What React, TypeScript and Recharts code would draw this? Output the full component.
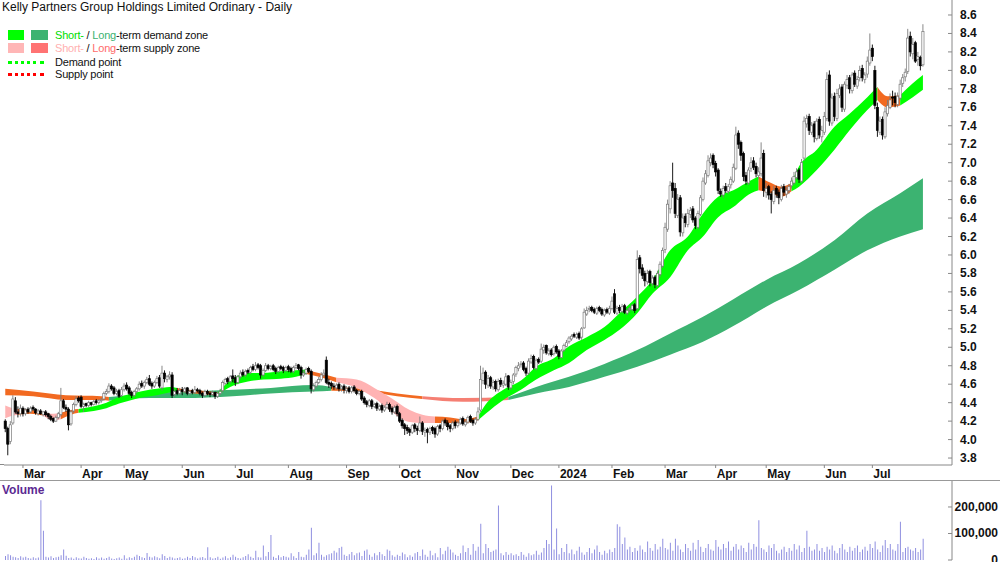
import React from 'react';
import { ComposedChart, Bar, Area, XAxis, YAxis } from 'recharts';

// ---------- daily candles (Feb 20 2023 .. Jul 29 2024, trading days) ----------
const opens = [
  4.20,4.12,3.98,4.18,4.42,4.30,4.28,
  4.34,4.28,4.33,4.30,4.35,4.33,4.28,4.31,4.27,4.30,4.28,4.25,4.23,4.20,4.24,4.27,4.42,4.35,4.33,4.17,4.31,4.38,4.45,
  4.46,4.36,4.39,4.37,4.40,4.38,4.42,4.40,4.42,4.44,4.50,4.52,4.58,4.56,4.50,4.53,4.48,
  4.54,4.59,4.56,4.51,4.48,4.52,4.55,4.61,4.58,4.62,4.66,4.61,4.58,4.62,4.67,4.56,4.72,4.65,4.68,4.70,4.49,4.53,4.50,
  4.54,4.52,4.56,4.50,4.53,4.51,4.54,4.53,4.50,4.48,4.52,4.50,4.49,4.51,4.47,4.50,4.53,4.61,4.66,4.63,4.69,
  4.67,4.62,4.68,4.73,4.70,4.75,4.73,4.79,4.76,4.81,4.80,4.70,4.75,4.80,4.77,4.80,4.77,4.74,4.79,4.78,4.75,
  4.79,4.77,4.74,4.78,4.81,4.78,4.70,4.72,4.77,4.74,4.54,4.58,4.62,4.65,4.70,4.86,4.62,4.61,4.58,4.56,4.60,4.55,4.58,
  4.53,4.56,4.52,4.57,4.53,4.50,4.52,4.45,4.41,4.37,4.42,4.36,4.39,4.33,4.37,4.32,4.35,4.38,4.34,4.30,4.36,
  4.28,4.21,4.16,4.13,4.11,4.08,4.16,4.12,4.10,4.18,4.08,4.11,4.08,4.13,4.12,4.06,4.15,4.12,4.21,4.18,4.15,4.12,
  4.19,4.15,4.18,4.23,4.16,4.19,4.25,4.21,4.18,4.22,4.32,4.64,4.73,4.59,4.67,4.57,4.63,4.54,4.64,4.59,4.60,4.69,
  4.56,4.63,4.71,4.77,4.81,4.83,4.77,4.72,4.84,4.90,4.77,4.87,4.85,4.97,5.02,4.93,4.97,4.93,5.01,
  4.96,4.89,4.97,5.01,5.06,5.09,5.14,5.11,5.15,5.11,5.21,5.36,5.41,5.43,5.41,5.37,5.43,5.41,5.35,5.41,5.37,
  5.42,5.58,5.37,5.43,5.39,5.45,5.37,5.41,5.41,5.46,5.42,5.97,5.86,5.80,5.71,5.82,5.69,5.76,5.67,5.79,5.88,
  6.06,6.28,6.50,6.78,6.72,6.43,6.62,6.24,6.42,6.33,6.44,6.50,6.40,6.30,6.44,6.60,6.78,6.86,7.00,7.08,
  6.99,6.92,6.69,6.65,6.74,6.69,6.76,6.80,6.94,7.32,7.22,7.10,6.86,6.78,6.94,7.02,6.96,6.86,6.88,7.10,
  6.68,6.74,6.66,6.58,6.72,6.68,6.60,6.74,6.66,6.70,6.75,6.78,6.84,6.92,6.80,7.05,7.42,7.50,7.33,7.42,7.26,7.47,7.28,
  7.33,7.48,7.95,7.43,7.72,7.48,7.73,7.82,7.58,7.84,7.92,7.78,7.97,7.83,7.92,8.02,7.90,
  7.96,8.08,8.24,8.00,7.60,7.33,7.47,7.28,7.53,7.60,7.71,7.72,7.63,7.70,7.86,7.93,7.99,8.37,8.18,8.30,8.12,8.14,8.06,
];
const highs = [
  4.22,4.14,4.20,4.48,4.46,4.36,4.38,
  4.36,4.34,4.35,4.36,4.37,4.34,4.33,4.33,4.31,4.32,4.29,4.27,4.24,4.26,4.30,4.56,4.44,4.38,4.35,4.32,4.40,4.47,4.47,
  4.48,4.40,4.40,4.42,4.41,4.43,4.44,4.44,4.45,4.52,4.55,4.61,4.60,4.58,4.55,4.55,4.57,
  4.61,4.62,4.58,4.53,4.54,4.57,4.63,4.64,4.64,4.68,4.70,4.63,4.64,4.69,4.70,4.80,4.75,4.70,4.74,4.73,4.55,4.56,4.56,
  4.57,4.57,4.57,4.54,4.55,4.58,4.56,4.55,4.52,4.54,4.54,4.52,4.53,4.52,4.52,4.55,4.64,4.67,4.68,4.70,4.76,
  4.70,4.70,4.75,4.76,4.76,4.77,4.80,4.82,4.84,4.83,4.82,4.77,4.83,4.82,4.81,4.82,4.79,4.80,4.81,4.80,4.80,
  4.81,4.79,4.80,4.83,4.82,4.80,4.75,4.78,4.79,4.76,4.61,4.64,4.68,4.73,4.76,4.90,4.66,4.63,4.61,4.61,4.62,4.59,4.60,
  4.58,4.58,4.58,4.59,4.55,4.54,4.54,4.47,4.43,4.44,4.44,4.40,4.41,4.38,4.39,4.37,4.41,4.40,4.36,4.37,4.38,
  4.30,4.23,4.18,4.16,4.13,4.17,4.18,4.15,4.25,4.20,4.13,4.13,4.14,4.15,4.14,4.16,4.17,4.22,4.23,4.21,4.17,4.20,
  4.21,4.20,4.24,4.25,4.21,4.26,4.27,4.23,4.24,4.35,4.80,4.78,4.75,4.70,4.69,4.65,4.65,4.66,4.67,4.64,4.72,4.70,
  4.65,4.72,4.80,4.84,4.85,4.85,4.79,4.88,4.92,4.92,4.88,4.89,5.04,5.03,5.03,4.99,4.99,5.02,5.03,
  4.98,4.98,5.04,5.08,5.12,5.14,5.16,5.16,5.17,5.22,5.42,5.44,5.45,5.45,5.43,5.44,5.45,5.43,5.42,5.43,5.45,
  5.55,5.63,5.45,5.46,5.47,5.47,5.42,5.44,5.47,5.48,6.05,6.00,5.90,5.83,5.84,5.84,5.78,5.78,5.83,5.93,6.08,
  6.35,6.60,6.80,7.00,6.78,6.66,6.65,6.45,6.45,6.50,6.52,6.53,6.42,6.48,6.65,6.84,6.92,7.08,7.10,7.10,
  7.02,6.94,6.72,6.75,6.78,6.77,6.85,6.99,7.39,7.35,7.24,7.12,6.90,6.95,7.06,7.06,7.00,6.95,7.22,7.14,
  6.78,6.76,6.69,6.75,6.75,6.71,6.76,6.77,6.74,6.77,6.84,6.90,6.94,6.94,7.04,7.50,7.52,7.53,7.44,7.45,7.48,7.50,7.40,
  7.55,7.98,8.00,7.75,7.76,7.80,7.85,7.85,7.88,7.95,7.95,7.98,8.00,7.94,8.05,8.06,7.98,
  8.15,8.40,8.28,8.05,7.65,7.50,7.50,7.60,7.68,7.75,7.78,7.76,7.76,7.90,7.96,8.02,8.45,8.42,8.35,8.32,8.20,8.16,8.50,
];
const lows = [
  4.08,3.83,3.95,4.16,4.28,4.24,4.25,
  4.25,4.26,4.28,4.29,4.31,4.27,4.26,4.27,4.25,4.25,4.22,4.20,4.18,4.19,4.22,4.25,4.33,4.30,4.10,4.15,4.29,4.36,4.40,
  4.34,4.30,4.35,4.35,4.36,4.37,4.38,4.38,4.40,4.42,4.48,4.50,4.53,4.48,4.48,4.45,4.46,
  4.52,4.53,4.48,4.45,4.46,4.50,4.53,4.56,4.55,4.60,4.58,4.55,4.56,4.60,4.56,4.53,4.62,4.62,4.65,4.45,4.46,4.48,4.48,
  4.48,4.50,4.48,4.48,4.49,4.50,4.51,4.48,4.45,4.46,4.48,4.46,4.47,4.44,4.45,4.48,4.51,4.59,4.60,4.61,4.62,
  4.58,4.60,4.66,4.68,4.68,4.71,4.71,4.74,4.74,4.76,4.66,4.68,4.73,4.75,4.75,4.74,4.71,4.72,4.75,4.72,4.73,
  4.73,4.72,4.72,4.76,4.75,4.66,4.68,4.70,4.72,4.50,4.52,4.56,4.60,4.63,4.68,4.60,4.56,4.55,4.54,4.54,4.52,4.52,4.50,
  4.50,4.50,4.50,4.51,4.48,4.48,4.42,4.38,4.35,4.35,4.33,4.34,4.31,4.31,4.29,4.30,4.33,4.30,4.27,4.28,4.25,
  4.18,4.12,4.05,4.06,4.04,4.06,4.08,4.05,4.08,4.05,4.03,3.96,4.05,4.06,4.02,4.04,4.08,4.10,4.15,4.10,4.08,4.10,
  4.12,4.13,4.16,4.15,4.14,4.17,4.18,4.15,4.16,4.20,4.30,4.60,4.55,4.56,4.55,4.54,4.52,4.52,4.57,4.56,4.58,4.54,
  4.54,4.60,4.68,4.74,4.78,4.74,4.69,4.70,4.82,4.76,4.75,4.82,4.83,4.93,4.92,4.91,4.90,4.91,4.93,
  4.87,4.88,4.95,5.00,5.04,5.07,5.10,5.09,5.08,5.08,5.20,5.34,5.38,5.38,5.36,5.35,5.38,5.34,5.33,5.36,5.35,
  5.40,5.36,5.35,5.37,5.37,5.36,5.35,5.38,5.39,5.37,5.40,5.80,5.74,5.66,5.68,5.66,5.66,5.64,5.65,5.76,5.86,
  6.02,6.25,6.45,6.62,6.40,6.40,6.20,6.20,6.30,6.30,6.40,6.35,6.28,6.28,6.42,6.58,6.76,6.84,6.96,6.94,
  6.85,6.66,6.63,6.62,6.67,6.66,6.72,6.78,6.92,7.15,7.02,6.80,6.76,6.76,6.90,6.92,6.84,6.82,6.85,6.63,
  6.62,6.60,6.45,6.55,6.62,6.55,6.58,6.64,6.62,6.66,6.72,6.76,6.82,6.78,6.78,7.02,7.38,7.30,7.30,7.22,7.24,7.26,7.22,
  7.30,7.45,7.40,7.40,7.45,7.45,7.70,7.55,7.55,7.80,7.75,7.75,7.82,7.80,7.88,7.88,7.86,
  7.92,8.05,8.10,7.58,7.28,7.30,7.25,7.26,7.50,7.58,7.62,7.60,7.60,7.68,7.82,7.88,7.96,8.15,8.12,8.08,8.05,8.00,8.04,
];
const closes = [
  4.12,3.95,4.16,4.44,4.30,4.28,4.34,
  4.28,4.32,4.30,4.34,4.33,4.29,4.31,4.28,4.30,4.27,4.25,4.22,4.20,4.24,4.28,4.42,4.35,4.33,4.16,4.30,4.38,4.44,4.42,
  4.36,4.38,4.37,4.40,4.38,4.41,4.40,4.42,4.43,4.50,4.52,4.58,4.55,4.50,4.52,4.47,4.54,
  4.58,4.55,4.50,4.48,4.52,4.55,4.60,4.58,4.62,4.65,4.60,4.58,4.62,4.66,4.58,4.72,4.66,4.68,4.70,4.48,4.52,4.50,4.53,
  4.52,4.55,4.50,4.52,4.51,4.54,4.53,4.50,4.48,4.52,4.50,4.49,4.51,4.47,4.50,4.52,4.62,4.65,4.63,4.68,4.66,
  4.62,4.68,4.72,4.70,4.74,4.73,4.78,4.76,4.80,4.78,4.70,4.75,4.80,4.77,4.79,4.76,4.74,4.78,4.77,4.75,4.78,
  4.76,4.74,4.78,4.80,4.77,4.70,4.72,4.76,4.74,4.55,4.58,4.62,4.65,4.70,4.72,4.62,4.60,4.58,4.57,4.59,4.55,4.57,4.54,
  4.55,4.52,4.56,4.53,4.50,4.52,4.44,4.40,4.38,4.42,4.36,4.38,4.34,4.36,4.32,4.35,4.38,4.33,4.30,4.35,4.28,
  4.20,4.15,4.12,4.10,4.08,4.15,4.12,4.10,4.18,4.09,4.10,4.08,4.12,4.10,4.06,4.14,4.12,4.20,4.18,4.14,4.12,4.18,
  4.15,4.18,4.22,4.17,4.19,4.24,4.20,4.18,4.22,4.30,4.65,4.72,4.60,4.66,4.58,4.62,4.55,4.63,4.60,4.61,4.68,4.57,
  4.62,4.70,4.78,4.80,4.82,4.76,4.72,4.85,4.88,4.78,4.86,4.84,4.98,5.00,4.94,4.96,4.92,5.00,4.95,
  4.90,4.96,5.02,5.05,5.10,5.12,5.12,5.14,5.10,5.20,5.38,5.40,5.42,5.40,5.38,5.42,5.40,5.36,5.40,5.38,5.42,
  5.50,5.38,5.42,5.40,5.44,5.38,5.40,5.42,5.45,5.40,5.95,5.85,5.78,5.72,5.80,5.70,5.75,5.68,5.80,5.90,6.05,
  6.30,6.55,6.75,6.70,6.45,6.60,6.25,6.40,6.35,6.45,6.48,6.38,6.32,6.45,6.62,6.80,6.88,7.02,7.05,6.98,
  6.90,6.70,6.66,6.72,6.70,6.74,6.82,6.95,7.30,7.20,7.08,6.85,6.80,6.92,7.00,6.95,6.88,6.90,7.05,6.70,
  6.72,6.65,6.60,6.70,6.66,6.62,6.72,6.68,6.70,6.74,6.80,6.85,6.90,6.82,7.00,7.45,7.48,7.35,7.40,7.28,7.45,7.30,7.35,
  7.50,7.90,7.45,7.70,7.50,7.75,7.80,7.60,7.85,7.90,7.80,7.95,7.85,7.90,8.00,7.92,7.95,
  8.10,8.22,8.15,7.62,7.35,7.45,7.30,7.55,7.62,7.68,7.70,7.65,7.72,7.85,7.92,7.98,8.35,8.20,8.28,8.10,8.15,8.05,8.42,
];
// volume in thousands of shares
const volumesK = [
  15,22,18,12,10,8,14,9,12,8,6,10,7,9,225,110,12,9,14,8,
  10,12,18,40,16,8,9,5,10,7,6,12,8,5,7,4,10,6,9,5,
  8,12,6,4,7,9,5,18,6,10,8,12,20,15,10,8,26,12,9,14,
  10,7,22,15,8,12,9,6,8,10,5,7,12,8,15,10,6,9,11,7,
  48,10,6,8,12,5,9,14,7,10,20,12,8,6,10,15,22,12,8,35,
  10,9,55,14,30,94,12,8,18,10,15,12,9,25,14,8,30,12,10,20,
  40,122,18,25,65,20,12,18,22,25,35,28,45,50,20,15,22,30,18,25,
  28,15,35,40,20,12,25,18,30,22,15,40,35,18,12,20,15,28,22,10,
  18,12,25,30,15,40,20,12,35,18,25,10,45,22,35,50,40,28,20,15,
  25,55,30,45,20,60,35,50,137,25,60,45,30,35,40,206,25,18,30,20,
  25,18,22,15,30,20,12,25,18,22,35,20,28,45,75,60,281,40,119,22,
  45,30,60,25,40,22,35,50,28,20,30,45,25,40,55,30,20,35,25,40,
  30,45,135,125,60,85,40,50,30,45,35,55,40,30,70,45,35,60,40,50,
  80,45,40,65,35,80,55,40,30,60,45,35,65,40,75,50,30,45,60,40,
  35,75,50,40,60,45,70,35,50,60,40,55,45,30,65,40,60,50,150,45,
  40,30,55,45,60,35,25,40,50,30,45,35,60,40,55,30,45,110,50,35,
  40,60,35,45,30,50,40,55,35,25,45,60,40,30,50,35,45,55,30,40,
  50,35,60,45,70,40,30,55,75,45,60,40,35,60,144,30,45,50,40,35,45,30,40,80,
];

// month tick labels (index of first trading day of month)
const monthIdx = [7, 30, 47, 70, 91, 112, 135, 156, 178, 200, 219, 240, 261, 281, 301, 324, 343];
const monthLabels = ['Mar', 'Apr', 'May', 'Jun', 'Jul', 'Aug', 'Sep', 'Oct', 'Nov', 'Dec', '2024', 'Feb', 'Mar', 'Apr', 'May', 'Jun', 'Jul'];
const priceTicks = [3.8, 4.0, 4.2, 4.4, 4.6, 4.8, 5.0, 5.2, 5.4, 5.6, 5.8, 6.0, 6.2, 6.4, 6.6, 6.8, 7.0, 7.2, 7.4, 7.6, 7.8, 8.0, 8.2, 8.4, 8.6];
const volumeTicks = [0, 100, 200];

// ---------- zones: [index, low, high] ----------
const stSupplyA = [[0, 4.23, 4.37], [3, 4.26, 4.34], [5, 4.27, 4.33]];
const stSupplyB = [[5, 4.27, 4.33], [10, 4.28, 4.32], [15, 4.26, 4.30]];
const stSupplyC = [[15, 4.26, 4.30], [19, 4.21, 4.28], [22, 4.22, 4.29]];
const stSupplyD = [[22, 4.22, 4.29], [26, 4.27, 4.32], [29, 4.29, 4.33]];
const stDemandA = [[29, 4.29, 4.33], [35, 4.31, 4.36], [40, 4.34, 4.40], [45, 4.39, 4.46], [50, 4.43, 4.50], [55, 4.46, 4.53], [60, 4.48, 4.55], [65, 4.51, 4.57], [68, 4.52, 4.56]];
const stSupplyE = [[68, 4.52, 4.56], [72, 4.51, 4.54], [78, 4.49, 4.53], [84, 4.48, 4.51]];
const stDemandB = [[84, 4.48, 4.51], [89, 4.57, 4.64], [96, 4.63, 4.72], [102, 4.65, 4.72], [109, 4.66, 4.74], [115, 4.68, 4.75], [119, 4.71, 4.76]];
const stSupplyF = [[119, 4.71, 4.76], [124, 4.68, 4.72], [131, 4.62, 4.67]];
const stSupplyG = [[131, 4.62, 4.67], [139, 4.56, 4.65], [146, 4.45, 4.56], [152, 4.32, 4.46], [160, 4.19, 4.32], [165, 4.18, 4.27], [170, 4.18, 4.25]];
const stSupplyH = [[170, 4.18, 4.25], [176, 4.18, 4.24], [181, 4.18, 4.22], [187, 4.21, 4.25]];
const stDemandC = [[187, 4.21, 4.25], [190, 4.28, 4.38], [197, 4.43, 4.54], [204, 4.54, 4.64], [210, 4.65, 4.79], [217, 4.75, 4.88], [223, 4.83, 5.01], [230, 4.97, 5.11], [237, 5.08, 5.22], [243, 5.19, 5.37], [250, 5.37, 5.55], [256, 5.58, 5.73], [263, 5.76, 6.05], [270, 6.05, 6.20], [276, 6.20, 6.45], [282, 6.41, 6.63], [288, 6.52, 6.70], [295, 6.67, 6.81], [298, 6.70, 6.85]];
const stSupplyI = [[298, 6.70, 6.85], [303, 6.67, 6.78], [307, 6.63, 6.74], [311, 6.69, 6.78]];
const stDemandD = [[311, 6.69, 6.78], [314, 6.74, 6.96], [321, 6.92, 7.14], [328, 7.14, 7.39], [334, 7.35, 7.53], [341, 7.57, 7.71], [345, 7.68, 7.82]];
const stSupplyJ = [[345, 7.68, 7.82], [349, 7.60, 7.72], [354, 7.62, 7.73]];
const stDemandE = [[354, 7.62, 7.73], [359, 7.71, 7.86], [363, 7.79, 7.95]];

const ltSupplyA = [[0, 4.48, 4.55], [11, 4.47, 4.52], [24, 4.43, 4.48], [38, 4.43, 4.47], [41, 4.42, 4.46]];
const ltDemandA = [[41, 4.42, 4.46], [57, 4.45, 4.50], [70, 4.45, 4.52], [90, 4.47, 4.54], [105, 4.50, 4.56], [122, 4.52, 4.59], [129, 4.53, 4.57]];
const ltSupplyB = [[129, 4.53, 4.57], [142, 4.52, 4.55], [155, 4.47, 4.50], [165, 4.44, 4.47]];
const ltSupplyC = [[165, 4.44, 4.47], [181, 4.41, 4.45], [199, 4.43, 4.46]];
const ltDemandB = [[199, 4.43, 4.46], [210, 4.50, 4.57], [223, 4.57, 4.68], [237, 4.68, 4.82], [250, 4.79, 4.97], [263, 4.92, 5.15], [276, 5.06, 5.33], [288, 5.23, 5.52], [301, 5.44, 5.73], [314, 5.62, 5.91], [328, 5.84, 6.16], [341, 6.05, 6.45], [354, 6.20, 6.67], [363, 6.28, 6.83]];

const C_ST_DEMAND = '#00FF00';
const C_LT_DEMAND = '#3CB371';
const C_ST_SUPPLY = '#FFB3B3';
const C_SUPPLY_OR = '#F26A21';
const C_LT_SUPPLY = '#F57F73';

const zones = [
  { key: 'ltSA', color: C_SUPPLY_OR, pts: ltSupplyA },
  { key: 'ltDA', color: C_LT_DEMAND, pts: ltDemandA },
  { key: 'ltSB', color: C_SUPPLY_OR, pts: ltSupplyB },
  { key: 'ltSC', color: C_LT_SUPPLY, pts: ltSupplyC },
  { key: 'ltDB', color: C_LT_DEMAND, pts: ltDemandB },
  { key: 'stSA', color: C_ST_SUPPLY, pts: stSupplyA },
  { key: 'stSB', color: C_SUPPLY_OR, pts: stSupplyB },
  { key: 'stSC', color: C_ST_SUPPLY, pts: stSupplyC },
  { key: 'stSD', color: C_SUPPLY_OR, pts: stSupplyD },
  { key: 'stDA', color: C_ST_DEMAND, pts: stDemandA },
  { key: 'stSE', color: C_SUPPLY_OR, pts: stSupplyE },
  { key: 'stDB', color: C_ST_DEMAND, pts: stDemandB },
  { key: 'stSF', color: C_SUPPLY_OR, pts: stSupplyF },
  { key: 'stSG', color: C_ST_SUPPLY, pts: stSupplyG },
  { key: 'stSH', color: C_SUPPLY_OR, pts: stSupplyH },
  { key: 'stDC', color: C_ST_DEMAND, pts: stDemandC },
  { key: 'stSI', color: C_SUPPLY_OR, pts: stSupplyI },
  { key: 'stDD', color: C_ST_DEMAND, pts: stDemandD },
  { key: 'stSJ', color: C_SUPPLY_OR, pts: stSupplyJ },
  { key: 'stDE', color: C_ST_DEMAND, pts: stDemandE },
];

const TOTAL_SLOTS = 375;
const rows: any[] = [];
for (let i = 0; i < TOTAL_SLOTS; i++) {
  const r: any = { i };
  if (i < closes.length) {
    r.o = opens[i]; r.h = highs[i]; r.l = lows[i]; r.c = closes[i];
    r.range = [lows[i], highs[i]];
    r.vol = volumesK[i];
  }
  rows.push(r);
}
zones.forEach((z) => {
  z.pts.forEach(([idx, lo, hi]) => { rows[idx][z.key] = [lo, hi]; });
});

const FONT = '"Liberation Sans", Arial, sans-serif';

const Candle = (props: any) => {
  const { x, y, width, height, payload } = props;
  if (!payload || payload.o == null) return null;
  const { o, h, l, c } = payload;
  const top = Math.min(y, y + height);
  const hgt = Math.abs(height);
  const py = (v: number) => (h === l ? top : top + (hgt * (h - v)) / (h - l));
  const cx = x + width / 2;
  const up = c >= o;
  const bTop = py(Math.max(o, c));
  const bBot = py(Math.min(o, c));
  const bh = Math.max(bBot - bTop, 0.8);
  const col = up ? '#7a7a7a' : '#000000';
  return (
    <g>
      <line x1={cx} x2={cx} y1={top} y2={top + hgt} stroke={col} strokeWidth={0.9} />
      <rect x={cx - 1.1} y={bTop} width={2.2} height={bh} fill={up ? '#ffffff' : '#000000'} stroke={col} strokeWidth={0.7} />
    </g>
  );
};

const MonthTick = (props: any) => {
  const { x, y, payload } = props;
  const k = monthIdx.indexOf(payload.value);
  const label = k >= 0 ? monthLabels[k] : '';
  return (
    <g>
      <line x1={x} x2={x} y1={y} y2={y + 3} stroke="#888" strokeWidth={1} />
      <text x={x + 1} y={y + 13} fontSize={12} fontWeight="bold" fontFamily={FONT} fill="#111" textAnchor="start">{label}</text>
    </g>
  );
};

const PriceTick = (props: any) => {
  const { x, y, payload } = props;
  return (
    <g>
      <line x1={x - 4} x2={x} y1={y} y2={y} stroke="#888" strokeWidth={1} />
      <text x={x + 8} y={y + 4} fontSize={12} fontWeight="bold" fontFamily={FONT} fill="#111" textAnchor="start">{payload.value.toFixed(1)}</text>
    </g>
  );
};

const VolTick = (props: any) => {
  const { x, y, payload } = props;
  return (
    <g>
      <line x1={x - 4} x2={x} y1={y} y2={y} stroke="#888" strokeWidth={1} />
      <text x={998} y={y + 4} fontSize={12} fontWeight="bold" fontFamily={FONT} fill="#111" textAnchor="end">{(payload.value * 1000).toLocaleString('en-US')}</text>
    </g>
  );
};

const legendText: React.CSSProperties = { position: 'absolute', left: 55, fontSize: 11, letterSpacing: -0.2, color: '#111', whiteSpace: 'nowrap' };

export default function App() {
  return (
    <div style={{ position: 'absolute', left: 0, top: 0, width: 1000, height: 562, background: '#fff', overflow: 'hidden', fontFamily: FONT }}>
      <div style={{ position: 'absolute', left: 0, top: 0 }}>
        <ComposedChart width={1000} height={481} data={rows} margin={{ top: 0, right: 0, bottom: 0, left: 4 }}>
          <XAxis dataKey="i" type="category" ticks={monthIdx} interval={0} tick={<MonthTick />} tickLine={false} tickSize={0} tickMargin={0} axisLine={{ stroke: '#888' }} height={16} />
          <YAxis orientation="right" type="number" domain={[3.7246, 8.7625]} ticks={priceTicks} interval={0} tick={<PriceTick />} tickLine={false} tickSize={0} tickMargin={0} axisLine={{ stroke: '#888' }} width={48} allowDataOverflow />
          {zones.map((z) => (
            <Area key={z.key} dataKey={z.key} type="monotone" stroke="none" fill={z.color} fillOpacity={1} connectNulls dot={false} activeDot={false} isAnimationActive={false} />
          ))}
          <Bar dataKey="range" shape={<Candle />} isAnimationActive={false} />
        </ComposedChart>
      </div>
      <div style={{ position: 'absolute', left: 0, top: 464, width: 4, height: 1, background: '#888' }} />
      <div style={{ position: 'absolute', left: 0, top: 480, width: 1000, height: 1, background: '#999' }} />
      <div style={{ position: 'absolute', left: 0, top: 480 }}>
        <ComposedChart width={1000} height={82} data={rows} margin={{ top: 1, right: 0, bottom: 2, left: 4 }}>
          <XAxis dataKey="i" type="category" hide />
          <YAxis orientation="right" type="number" domain={[0, 298]} ticks={volumeTicks} interval={0} tick={<VolTick />} tickLine={false} tickSize={0} tickMargin={0} axisLine={{ stroke: '#888' }} width={48} allowDataOverflow />
          <Bar dataKey="vol" fill="#8F8FE0" barSize={1} isAnimationActive={false} />
        </ComposedChart>
      </div>
      <div style={{ position: 'absolute', left: 2, top: 483, fontSize: 12, fontWeight: 'bold', color: '#5B2A92' }}>Volume</div>

      <div style={{ position: 'absolute', left: 2, top: 0, fontSize: 12, color: '#111', whiteSpace: 'nowrap' }}>Kelly Partners Group Holdings Limited Ordinary - Daily</div>
      <div style={{ position: 'absolute', left: 8, top: 30, width: 16, height: 10, background: C_ST_DEMAND }} />
      <div style={{ position: 'absolute', left: 31, top: 30, width: 17, height: 10, background: C_LT_DEMAND }} />
      <div style={{ ...legendText, top: 29 }}>
        <span style={{ color: '#00DD00' }}>Short-</span> / <span style={{ color: C_LT_DEMAND }}>Long</span>-term demand zone
      </div>
      <div style={{ position: 'absolute', left: 8, top: 43, width: 16, height: 10, background: '#FFB6B6' }} />
      <div style={{ position: 'absolute', left: 31, top: 43, width: 17, height: 10, background: '#FF7373' }} />
      <div style={{ ...legendText, top: 42 }}>
        <span style={{ color: '#FFB0B0' }}>Short-</span> / <span style={{ color: '#FF6B6B' }}>Long</span>-term supply zone
      </div>
      <div style={{ position: 'absolute', left: 8, top: 61, width: 36, height: 0, borderTop: '3px dotted #00FF00' }} />
      <div style={{ ...legendText, top: 56 }}>Demand point</div>
      <div style={{ position: 'absolute', left: 8, top: 73, width: 36, height: 0, borderTop: '3px dotted #FF0000' }} />
      <div style={{ ...legendText, top: 68 }}>Supply point</div>
    </div>
  );
}
